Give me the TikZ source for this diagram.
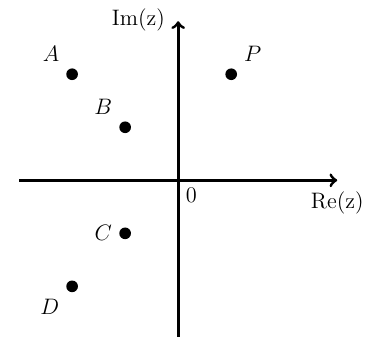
\documentclass[tikz,border=0pt]{standalone}
\usepackage{tikz}

\begin{document}
\begin{tikzpicture}[line width=1.6pt,>=to,font=\large,
  punto/.style={circle,fill,inner sep=0pt,minimum size=2.2mm}]
  \useasboundingbox (-3.36,-2.94) rectangle (3.58,3.4);
  % ejes
  \coordinate (O) at (0,0);
  \coordinate (xi) at (-3,0); \coordinate (xf) at (3,0);
  \coordinate (yi) at (0,-3); \coordinate (yf) at (0,3);
  \draw[->] (xi)--(xf);
  \draw[->] (yi)--(yf);
  \node[below=2pt] (re) at (xf){Re(z)};
  \node[left=3pt] (im) at (0,3.03){Im(z)};
  \node[below right] (cero) at (O){0};
  % puntos
  \node[punto,label={[label distance=0pt]above left:$A$}] (A) at (-2,2){};
  \node[punto,label={[label distance=0pt]above right:$P$}] (P) at (1,2){};
  \node[punto,label={[label distance=0pt]above left:$B$}] (B) at (-1,1){};
  \node[punto,label={[label distance=-1pt]left:$C$}] (C) at (-1,-1){};
  \node[punto,label={[label distance=0pt]below left:$D$}] (D) at (-2,-2){};
\end{tikzpicture}
\end{document}
